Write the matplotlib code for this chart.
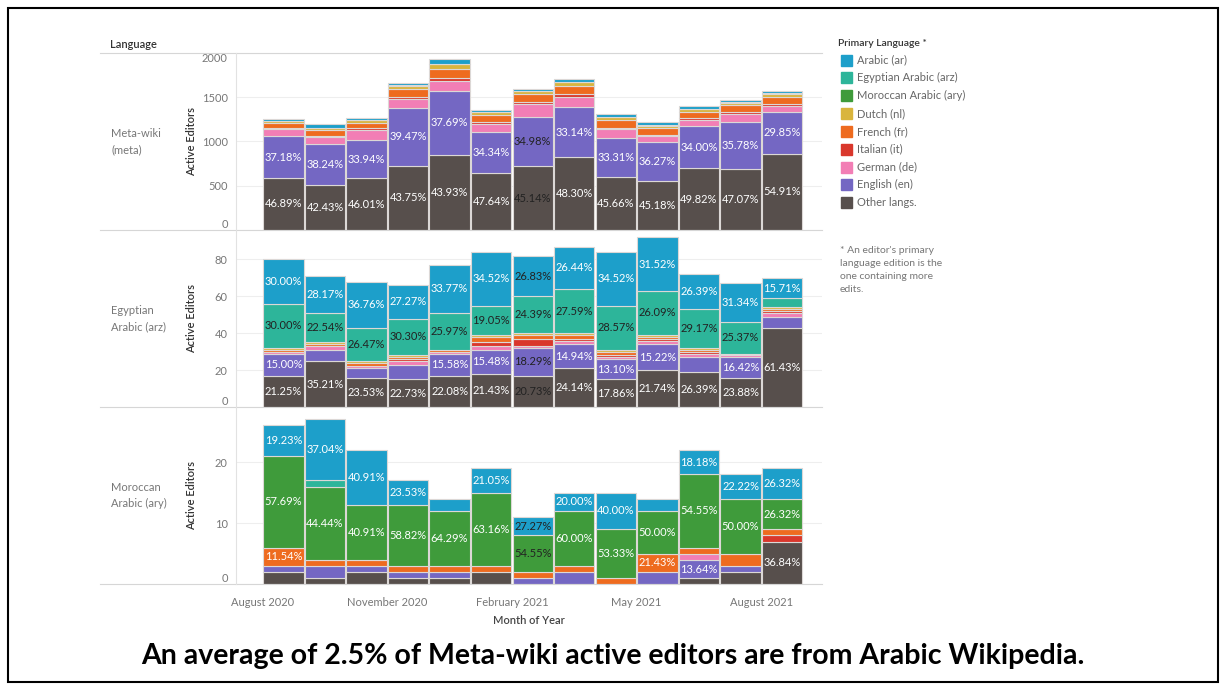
import numpy as np
import matplotlib
matplotlib.use("Agg")
from matplotlib import pyplot as plt
from matplotlib.patches import Rectangle
from matplotlib.lines import Line2D

plt.rcParams['font.family'] = ['Lato', 'DejaVu Sans']

months = ['August 2020', 'September 2020', 'October 2020', 'November 2020', 'December 2020',
          'January 2021', 'February 2021', 'March 2021', 'April 2021', 'May 2021',
          'June 2021', 'July 2021', 'August 2021']
tick_months = ['August 2020', 'November 2020', 'February 2021', 'May 2021', 'August 2021']

# stacking order, bottom to top
layers = ['Other langs.', 'English (en)', 'German (de)', 'Italian (it)', 'French (fr)',
          'Dutch (nl)', 'Moroccan Arabic (ary)', 'Egyptian Arabic (arz)', 'Arabic (ar)']
layer_colors = ['#574f4c', '#7467c3', '#f27eb5', '#d9372c', '#ee6b1f',
                '#d9b53d', '#3f9b3b', '#2db59a', '#1d9fca']

# Meta-wiki (meta)
meta_other = [589, 507, 583, 725, 846, 645, 720, 822, 599, 548, 696, 692, 861]
meta_english = [467, 457, 430, 654, 726, 465, 558, 564, 437, 440, 475, 526, 468]
meta_german = [78, 85, 114, 95, 108, 90, 140, 116, 100, 75, 69, 88, 73]
meta_italian = [13, 15, 18, 28, 38, 20, 25, 28, 16, 12, 19, 20, 17]
meta_french = [55, 62, 65, 90, 100, 75, 90, 95, 85, 75, 68, 80, 80]
meta_dutch = [28, 25, 30, 35, 50, 32, 30, 40, 35, 27, 36, 30, 38]
meta_moroccan = [0, 0, 0, 0, 0, 0, 0, 0, 0, 0, 0, 0, 0]
meta_egyptian = [3, 4, 4, 5, 8, 4, 5, 5, 5, 4, 4, 4, 4]
meta_arabic = [23, 40, 23, 25, 50, 23, 27, 32, 35, 32, 30, 30, 27]

# Egyptian Arabic (arz)
arz_other = [17, 25, 16, 15, 17, 18, 17, 21, 15, 20, 19, 16, 43]
arz_english = [12, 6, 5, 8, 12, 13, 15, 13, 11, 14, 8, 11, 6]
arz_german = [1, 2, 1, 2, 1, 2, 1, 2, 1, 2, 2, 1, 2]
arz_italian = [0, 0, 0, 1, 0, 2, 4, 1, 1, 1, 1, 0, 1]
arz_french = [1, 1, 2, 1, 1, 3, 2, 2, 2, 1, 1, 0, 1]
arz_dutch = [1, 1, 1, 1, 0, 1, 1, 1, 1, 1, 1, 1, 1]
arz_moroccan = [0, 0, 0, 0, 0, 0, 0, 0, 0, 0, 0, 0, 0]
arz_egyptian = [24, 16, 18, 20, 20, 16, 20, 24, 24, 24, 21, 17, 5]
arz_arabic = [24, 20, 25, 18, 26, 29, 22, 23, 29, 29, 19, 21, 11]

# Moroccan Arabic (ary)
ary_other = [2, 1, 2, 1, 1, 2, 0, 0, 0, 0, 1, 2, 7]
ary_english = [1, 2, 1, 1, 1, 0, 1, 2, 0, 2, 3, 1, 0]
ary_german = [0, 0, 0, 0, 0, 0, 0, 0, 0, 0, 1, 0, 0]
ary_italian = [0, 0, 0, 0, 0, 0, 0, 0, 0, 0, 0, 0, 1]
ary_french = [3, 1, 1, 1, 1, 1, 1, 1, 1, 3, 1, 2, 1]
ary_dutch = [0, 0, 0, 0, 0, 0, 0, 0, 0, 0, 0, 0, 0]
ary_moroccan = [15, 12, 9, 10, 9, 12, 6, 9, 8, 7, 12, 9, 5]
ary_egyptian = [0, 1, 0, 0, 0, 0, 0, 0, 0, 0, 0, 0, 0]
ary_arabic = [5, 10, 9, 4, 2, 4, 3, 3, 6, 2, 4, 4, 5]

panels = [
    ('Meta-wiki\n(meta)',
     [meta_other, meta_english, meta_german, meta_italian, meta_french, meta_dutch,
      meta_moroccan, meta_egyptian, meta_arabic], 2000, [0, 500, 1000, 1500, 2000]),
    ('Egyptian\nArabic (arz)',
     [arz_other, arz_english, arz_german, arz_italian, arz_french, arz_dutch,
      arz_moroccan, arz_egyptian, arz_arabic], 96, [0, 20, 40, 60, 80]),
    ('Moroccan\nArabic (ary)',
     [ary_other, ary_english, ary_german, ary_italian, ary_french, ary_dutch,
      ary_moroccan, ary_egyptian, ary_arabic], 29, [0, 10, 20]),
]

W, H = 1226, 689
fig = plt.figure(figsize=(W / 100, H / 100), dpi=100)


def fx(x):
    return x / W


def fy(y):
    return 1 - y / H


def hline(x0, x1, y, color, lw=0.8):
    fig.add_artist(Line2D([fx(x0), fx(x1)], [fy(y), fy(y)], transform=fig.transFigure, color=color, lw=lw))


def vline(x, y0, y1, color, lw=0.8):
    fig.add_artist(Line2D([fx(x), fx(x)], [fy(y0), fy(y1)], transform=fig.transFigure, color=color, lw=lw))


panel_top = [52.7, 229.9, 407.1]
panel_h = 177.2
x_left, x_right = 236, 822
x = np.arange(len(months))

for k, (rowname, data, ymax, yticks) in enumerate(panels):
    top = panel_top[k]
    ax = fig.add_axes([fx(x_left), fy(top + panel_h), (x_right - x_left) / W, panel_h / H])
    data = np.array(data, dtype=float)
    totals = data.sum(axis=0)
    bottom = np.zeros(len(months))
    px_per_unit = panel_h / ymax
    for j, layer in enumerate(layers):
        vals = data[j]
        m = vals > 0
        ax.bar(x[m], vals[m], bottom=bottom[m], width=0.97, color=layer_colors[j],
               edgecolor='#dcd8d6', linewidth=0.8, zorder=2)
        for i in range(len(x)):
            # only segments tall enough get a share label
            if vals[i] * px_per_unit >= 16.5:
                dark = layer == 'Egyptian Arabic (arz)' or i == 6
                ax.text(x[i], bottom[i] + vals[i] / 2, f'{100 * vals[i] / totals[i]:.2f}%',
                        ha='center', va='center', fontsize=8,
                        color='#222222' if dark else 'white', zorder=3)
        bottom += vals

    ax.set_xlim(-1.14, 12.96)
    ax.set_ylim(0, ymax)
    for s in ax.spines.values():
        s.set_visible(False)
    ax.set_yticks(yticks)
    ax.set_yticklabels([str(t) for t in yticks])
    ax.tick_params(axis='y', length=0, labelsize=8, labelcolor='#777777', pad=6)
    for t, lab in zip(yticks, ax.get_yticklabels()):
        if t == 0:
            lab.set_va('bottom')
        elif t == ymax:
            lab.set_va('top')
    ax.grid(axis='y', color='#eeeeee', lw=0.8, zorder=0)
    ax.set_axisbelow(True)
    if k == 2:
        ax.set_xticks([months.index(mo) - 0.5 for mo in tick_months])
        ax.set_xticklabels(tick_months)
        ax.tick_params(axis='x', length=0, labelsize=8, labelcolor='#777777', pad=9)
    else:
        ax.set_xticks([])

    cy = top + panel_h / 2
    fig.text(fx(111), fy(cy), rowname, ha='left', va='center', fontsize=8, color='#777777',
             linespacing=1.6)
    fig.text(fx(192), fy(cy), 'Active Editors', ha='center', va='center', rotation=90,
             fontsize=8, color='#333333', fontweight='semibold')
    hline(100, x_right, top + panel_h, '#d6d6d6')

hline(100, x_right, panel_top[0], '#d6d6d6')
vline(x_left, panel_top[0], panel_top[2] + panel_h, '#e2e2e2')

fig.text(fx(110), fy(44), 'Language', ha='left', va='center', fontsize=8, color='#333333',
         fontweight='semibold')
fig.text(fx(529), fy(620), 'Month of Year', ha='center', va='center', fontsize=8,
         color='#444444', fontweight='semibold')

# legend
fig.text(fx(838), fy(44), 'Primary Language *', ha='left', va='center', fontsize=7.5,
         color='#333333', fontweight='semibold')
for r, j in enumerate(range(len(layers) - 1, -1, -1)):
    cy = 60 + 17.84 * r
    fig.add_artist(Rectangle((fx(841), fy(cy + 5.5)), 11 / W, 11 / H, transform=fig.transFigure,
                             color=layer_colors[j]))
    fig.text(fx(857), fy(cy), layers[j], ha='left', va='center', fontsize=8, color='#666666')

fig.text(fx(840), fy(246), "* An editor's primary\nlanguage edition is the\none containing more\nedits.",
         ha='left', va='top', fontsize=7.5, color='#777777', linespacing=1.55)

fig.text(fx(613), fy(656), 'An average of 2.5% of Meta-wiki active editors are from Arabic Wikipedia.',
         ha='center', va='center', fontsize=20.5, fontweight='bold', color='black')

fig.add_artist(Rectangle((fx(8), fy(682)), (1218 - 8) / W, (682 - 8) / H, transform=fig.transFigure,
                         fill=False, edgecolor='black', lw=1.5))

fig.savefig('out.png', dpi=100)
